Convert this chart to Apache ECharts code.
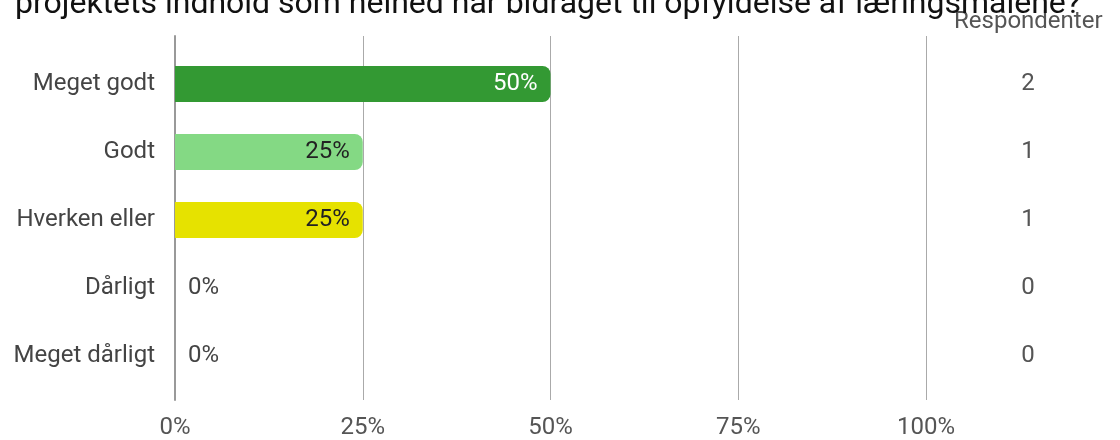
<!DOCTYPE html>
<html><head><meta charset="utf-8">
<script src="https://cdn.jsdelivr.net/npm/echarts@6/dist/echarts.min.js"></script>
<style>html,body{margin:0;padding:0;background:#fff}#c{width:1120px;height:440px}</style>
</head><body><div id="c"></div>
<script>
const titleText = 'projektets indhold som helhed har bidraget til opfyldelse af læringsmålene?';
const categories = ['Meget godt', 'Godt', 'Hverken eller', 'Dårligt', 'Meget dårligt'];
const percentages = [50, 25, 25, 0, 0];
const respondents = [2, 1, 1, 0, 0];
const xTicks = [0, 25, 50, 75, 100];
const barColors = ['#339933', '#84d984', '#e6e200', '#aaaaaa', '#aaaaaa'];
const labelColors = ['#ffffff', '#222222', '#222222', '#444444', '#444444'];

const chart = echarts.init(document.getElementById('c'));
const FONT = 'Roboto';
const FS = 24;
chart.setOption({
  animation: false,
  textStyle: { fontFamily: FONT },
  title: {
    text: titleText, left: 10, top: -16,
    textStyle: { fontFamily: FONT, fontSize: 32, fontWeight: 'normal', color: '#111' }
  },
  graphic: [{
    type: 'text', left: 954, top: 10,
    style: { text: 'Respondenter', font: FS + 'px Roboto', fill: '#555' }
  }],
  grid: [
    { left: 175, right: 194, top: 36, bottom: 38 },
    { left: 175, right: 194, top: 50, height: 340 }
  ],
  xAxis: [
    {
      gridIndex: 0, type: 'value', min: xTicks[0], max: xTicks[xTicks.length - 1], interval: 25,
      axisLine: { show: false }, axisTick: { show: false },
      splitLine: { show: true, lineStyle: { color: '#aaaaaa', width: 1 } },
      axisLabel: { formatter: '{value}%', fontSize: FS, color: '#555', margin: 16, fontFamily: FONT }
    },
    {
      gridIndex: 1, type: 'value', min: 0, max: 100, show: false
    }
  ],
  yAxis: [
    {
      gridIndex: 0, type: 'category', data: categories, inverse: true,
      axisLine: { show: true, lineStyle: { color: '#999999', width: 2 } },
      axisTick: { show: false }, axisLabel: { show: false }, splitLine: { show: false }
    },
    {
      gridIndex: 1, type: 'category', data: categories, inverse: true,
      axisLine: { show: false }, axisTick: { show: false },
      axisLabel: { fontSize: FS, color: '#444', margin: 20, fontFamily: FONT }
    },
    {
      gridIndex: 1, type: 'category', data: respondents.map(String), inverse: true, position: 'right',
      axisLine: { show: false }, axisTick: { show: false },
      axisLabel: { fontSize: FS, color: '#555', margin: 102, align: 'center', fontFamily: FONT }
    }
  ],
  series: [{
    type: 'bar', xAxisIndex: 1, yAxisIndex: 1, barWidth: 36,
    data: percentages.map((v, i) => ({
      value: v,
      itemStyle: { color: barColors[i], borderRadius: [0, 8, 8, 0] },
      label: v > 0
        ? { show: true, position: 'insideRight', distance: 13, color: labelColors[i] }
        : { show: true, position: 'right', distance: 13, color: labelColors[i] }
    })),
    label: { show: true, formatter: '{c}%', fontSize: FS, fontFamily: FONT }
  }]
});
</script></body></html>
